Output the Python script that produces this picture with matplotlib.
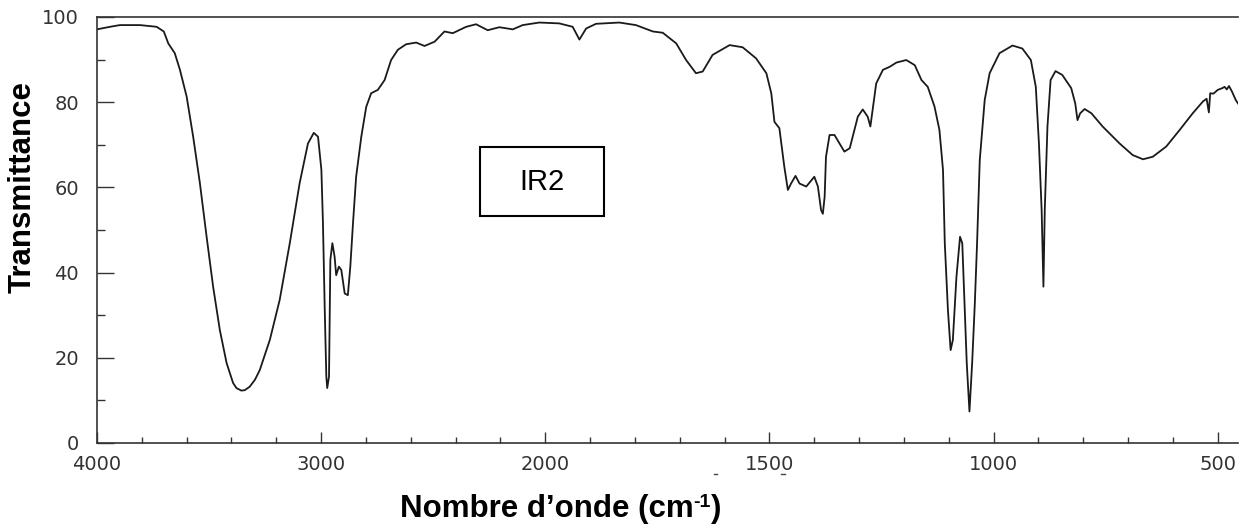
import numpy as np
import matplotlib
matplotlib.use("Agg")
import matplotlib.pyplot as plt
from matplotlib.patches import Rectangle
from matplotlib.lines import Line2D
from matplotlib.ticker import FixedLocator

# ---------------- data ----------------
wavenumber = [4000, 3942, 3898, 3808, 3734, 3702, 3682, 3653, 3630, 3600,
              3571, 3541, 3511, 3482, 3452, 3422, 3393, 3378, 3356, 3341,
              3319, 3296, 3274,
              3229, 3185, 3140, 3096, 3059, 3033, 3014, 2999, 2992, 2984,
              2977, 2973, 2965, 2959, 2950, 2940, 2933, 2921, 2910, 2895,
              2881, 2870, 2858, 2844, 2821, 2799, 2777, 2747, 2717, 2688,
              2658, 2621, 2576, 2539, 2494, 2450, 2413, 2353, 2309, 2257,
              2205, 2145, 2101, 2027, 1969, 1939, 1924, 1909, 1887, 1835,
              1798, 1760, 1738, 1708, 1686, 1664, 1649, 1627, 1589, 1560,
              1530, 1507, 1496, 1489, 1478, 1467, 1459, 1452, 1442, 1433,
              1418, 1400, 1392, 1385, 1381, 1377, 1374, 1366, 1355, 1333,
              1321, 1303, 1292, 1281, 1275, 1269, 1262, 1247, 1232, 1217,
              1195, 1176, 1161, 1147, 1132, 1121, 1113, 1109, 1102, 1096,
              1091, 1083, 1075, 1070, 1065, 1060, 1054, 1048, 1042, 1037,
              1031, 1020, 1009, 987, 958, 936, 917, 906, 899, 893,
              889, 886, 880, 873, 862, 847, 827, 818, 813, 807,
              797, 782, 757, 719, 690, 667, 645, 615, 585, 556,
              533, 525, 520, 517, 510, 500, 490, 485, 480, 475,
              468, 460, 455]
transmittance = [97.1, 97.7, 98.1, 98.1, 97.7, 96.6, 93.8, 91.5, 87.6, 81.3,
                 71.9, 61.0, 48.4, 36.7, 26.5, 18.8, 14.1, 12.9, 12.3, 12.4,
                 13.2, 14.8, 17.1,
                 24.2, 33.6, 46.9, 61.0, 70.3, 72.8, 71.9, 64.1, 51.6, 31.2,
                 15.6, 12.9, 15.6, 43.0, 46.9, 43.7, 39.4, 41.4, 40.6, 35.1,
                 34.7, 41.4, 51.6, 62.5, 71.9, 78.9, 82.1, 82.9, 85.2, 89.9,
                 92.3, 93.6, 94.0, 93.2, 94.2, 96.6, 96.2, 97.7, 98.3, 96.9,
                 97.6, 97.1, 98.1, 98.7, 98.5, 97.7, 94.7, 97.3, 98.4, 98.7,
                 98.1, 96.6, 96.3, 93.8, 89.9, 86.8, 87.2, 91.1, 93.4, 92.9,
                 90.3, 86.8, 82.1, 75.4, 73.9, 64.9, 59.4, 60.9, 62.7, 60.9,
                 60.2, 62.5, 60.2, 54.7, 53.8, 57.8, 67.2, 72.3, 72.3, 68.4,
                 69.2, 76.6, 78.3, 76.6, 74.3, 79.0, 84.4, 87.6, 88.3, 89.3,
                 89.9, 88.7, 85.2, 83.6, 79.0, 73.5, 64.1, 46.9, 31.2, 21.8,
                 24.2, 39.0, 48.4, 46.9, 32.8, 18.7, 7.4, 18.7, 32.8, 46.9,
                 66.4, 80.5, 86.8, 91.5, 93.3, 92.6, 89.9, 83.6, 70.3, 54.7,
                 36.7, 54.7, 74.3, 85.2, 87.3, 86.4, 83.3, 79.7, 75.8, 77.4,
                 78.4, 77.4, 74.3, 70.3, 67.6, 66.6, 67.2, 69.6, 73.5, 77.4,
                 80.2, 80.8, 77.6, 82.1, 82.0, 82.9, 83.3, 83.6, 83.0, 83.8,
                 82.4, 80.5, 79.7]

x_major = [4000, 3000, 2000, 1500, 1000, 500]
x_minor = [3800, 3600, 3400, 3200, 2800, 2600, 2400, 2200,
           1900, 1800, 1700, 1600, 1400, 1300, 1200, 1100,
           900, 800, 700, 600]
y_major = [0, 20, 40, 60, 80, 100]
y_minor = [10, 30, 50, 70, 90]

x_label = "Nombre d\u2019onde (cm"
x_label_sup = "-1"
y_label = "Transmittance"
box_label = "IR2"

# ---------------- figure ----------------
W, H = 1245, 527
fig = plt.figure(figsize=(W / 100, H / 100), dpi=100)
ax = fig.add_axes([97 / W, 1 - 443 / H, (1238 - 97) / W, (443 - 17) / H])

# spectrometer abscissa: scale doubles below 2000 cm-1
def fwd(w):
    w = np.asarray(w, dtype=float)
    return np.where(w >= 2000, w, 2 * w - 2000)

def inv(u):
    u = np.asarray(u, dtype=float)
    return np.where(u >= 2000, u, (u + 2000) / 2)

ax.set_xscale("function", functions=(fwd, inv))
ax.plot(wavenumber, transmittance, color="#1a1a1a", lw=1.3)
ax.set_xlim(4000, 455)
ax.set_ylim(0, 100)

ax.xaxis.set_major_locator(FixedLocator(x_major))
ax.xaxis.set_minor_locator(FixedLocator(x_minor))
ax.yaxis.set_major_locator(FixedLocator(y_major))
ax.yaxis.set_minor_locator(FixedLocator(y_minor))
ax.set_xticklabels([str(v) for v in x_major])
ax.set_yticklabels([str(v) for v in y_major])

tick_col = "#333333"
ax.tick_params(axis="x", which="major", direction="in", length=8, width=1,
               color=tick_col, pad=9, labelsize=14, labelcolor=tick_col)
ax.tick_params(axis="x", which="minor", direction="in", length=4, width=1,
               color=tick_col)
ax.tick_params(axis="y", which="major", direction="in", length=12, width=1,
               color=tick_col, pad=13, labelsize=14, labelcolor=tick_col)
ax.tick_params(axis="y", which="minor", direction="in", length=6, width=1,
               color=tick_col)
for lab in ax.get_xticklabels() + ax.get_yticklabels():
    lab.set_fontfamily("DejaVu Sans")

ax.spines["right"].set_visible(False)
for s in ("left", "bottom", "top"):
    ax.spines[s].set_color("#333333")
    ax.spines[s].set_linewidth(1.2)

# IR2 box
bx0, bx1 = (480 - 97) / 1141, (604 - 97) / 1141
by0, by1 = (443 - 216) / 426, (443 - 147) / 426
ax.add_patch(Rectangle((bx0, by0), bx1 - bx0, by1 - by0, transform=ax.transAxes,
                       fill=False, edgecolor="black", lw=1.5))
ax.text((bx0 + bx1) / 2, (by0 + by1) / 2, box_label, transform=ax.transAxes,
        ha="center", va="center", fontsize=21, family="Liberation Sans")

# axis labels
fig.text(23 / W, 1 - 187 / H, y_label, rotation=90, ha="center", va="center",
         fontsize=22.5, fontweight="bold", family="Liberation Sans")

t1 = fig.text(400 / W, 1 - 517 / H, x_label, ha="left", va="baseline",
              fontsize=22.5, fontweight="bold", family="Liberation Sans")
t2 = ax.annotate(x_label_sup, xy=(1, 1), xycoords=t1, ha="left", va="top",
                 fontsize=14, fontweight="bold", family="Liberation Sans",
                 annotation_clip=False)
ax.annotate(")", xy=(1, 0), xycoords=(t2, t1), ha="left", va="bottom",
            fontsize=22.5, fontweight="bold", family="Liberation Sans",
            annotation_clip=False)

# small stray marks under the axis (drawn as tiny strokes)
for xp in (715, 783):
    fig.add_artist(Line2D([(xp - 1.5) / W, (xp + 1.5) / W],
                          [1 - 474 / H, 1 - 474 / H],
                          transform=fig.transFigure, color="#444444", lw=1))

fig.savefig("out.png", dpi=100, facecolor="white")
